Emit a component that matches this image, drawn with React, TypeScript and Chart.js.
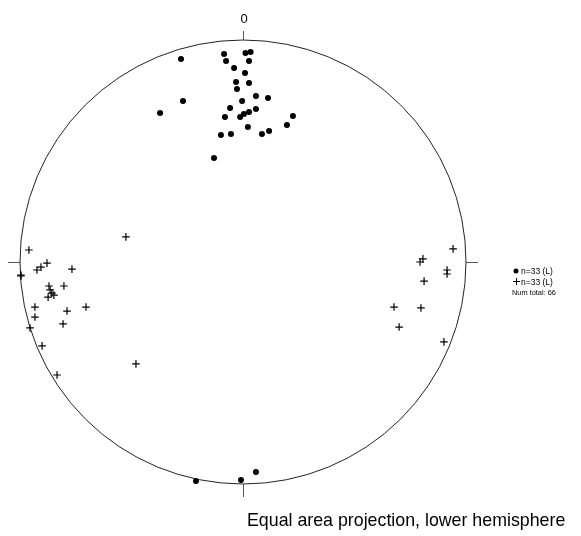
import React, { useEffect, useRef } from "react";
import { Chart, registerables } from "chart.js";

Chart.register(...registerables);

// Projected positions on the unit net (x = east, y = north)
const dotX = [
  -0.278, -0.372, -0.269, -0.085, -0.076, 0.011, 0.034, 0.027, -0.04, 0.009,
  -0.031, 0.027, -0.027, 0.058, 0.112, -0.004, -0.058, 0.058, 0.027, -0.013,
  0.004, -0.081, 0.224, 0.022, 0.197, -0.099, -0.054, 0.085, 0.117, -0.13,
  -0.211, -0.009, 0.058,
];
const dotY = [
  0.914, 0.671, 0.725, 0.937, 0.905, 0.941, 0.946, 0.905, 0.874, 0.851,
  0.811, 0.806, 0.779, 0.748, 0.739, 0.725, 0.694, 0.689, 0.676, 0.653,
  0.667, 0.653, 0.658, 0.608, 0.617, 0.572, 0.577, 0.577, 0.59, 0.468,
  -0.986, -0.982, -0.946,
];
const crossX = [
  -0.525, -0.96, -0.879, -0.906, -0.924, -0.767, -0.996, -0.996, -0.87, -0.803,
  -0.865, -0.857, -0.848, -0.874, -0.933, -0.704, -0.789, -0.933, -0.807, -0.955,
  -0.901, -0.48, -0.834, 0.942, 0.794, 0.807, 0.915, 0.915, 0.812, 0.677,
  0.798, 0.7, 0.901,
];
const crossY = [
  0.113, 0.054, -0.005, -0.023, -0.036, -0.032, -0.059, -0.063, -0.108, -0.108,
  -0.126, -0.14, -0.149, -0.158, -0.203, -0.203, -0.221, -0.248, -0.279, -0.297,
  -0.378, -0.459, -0.509, 0.059, 0.0, 0.014, -0.036, -0.054, -0.086, -0.203,
  -0.207, -0.293, -0.36,
];

const northLabel = "0";
const legendLabels = ["n=33 (L)", "n=33 (L)"];
const totalLabel = "Num total: 66";
const captionText = "Equal area projection, lower hemisphere";

const stereonetPlugin = {
  id: "stereonet",
  beforeDatasetsDraw(chart: any) {
    const ctx = chart.ctx;
    const xs = chart.scales.x;
    const ys = chart.scales.y;
    const cx = xs.getPixelForValue(0);
    const cy = ys.getPixelForValue(0);
    const rx = xs.getPixelForValue(1) - cx;
    const ry = cy - ys.getPixelForValue(1);
    ctx.save();
    ctx.strokeStyle = "#222";
    ctx.lineWidth = 1;
    ctx.beginPath();
    ctx.ellipse(cx, cy, rx, ry, 0, 0, Math.PI * 2);
    ctx.stroke();
    ctx.strokeStyle = "#555";
    ctx.beginPath();
    ctx.moveTo(cx + 0.5, cy - ry);
    ctx.lineTo(cx + 0.5, cy - ry - 9);
    ctx.moveTo(cx + 0.5, cy + ry);
    ctx.lineTo(cx + 0.5, cy + ry + 13);
    ctx.moveTo(cx - rx, cy + 0.5);
    ctx.lineTo(cx - rx - 12, cy + 0.5);
    ctx.moveTo(cx + rx, cy + 0.5);
    ctx.lineTo(cx + rx + 12, cy + 0.5);
    ctx.stroke();
    ctx.fillStyle = "#000";
    ctx.font = "13px 'Liberation Sans', Arial, sans-serif";
    ctx.textAlign = "center";
    ctx.textBaseline = "alphabetic";
    ctx.fillText(northLabel, cx + 1, cy - ry - 17);
    ctx.restore();
  },
  afterDraw(chart: any) {
    const ctx = chart.ctx;
    const area = chart.chartArea;
    ctx.save();
    ctx.fillStyle = "#000";
    ctx.strokeStyle = "#000";
    const lx = area.right + 50;
    const ly = (area.top + area.bottom) / 2 + 9;
    ctx.beginPath();
    ctx.arc(lx, ly, 2.5, 0, Math.PI * 2);
    ctx.fill();
    ctx.lineWidth = 1;
    ctx.beginPath();
    ctx.moveTo(lx - 3, ly + 10.5);
    ctx.lineTo(lx + 4, ly + 10.5);
    ctx.moveTo(lx + 0.5, ly + 7);
    ctx.lineTo(lx + 0.5, ly + 14);
    ctx.stroke();
    ctx.font = "8.5px 'Liberation Sans', Arial, sans-serif";
    ctx.textAlign = "left";
    ctx.textBaseline = "alphabetic";
    ctx.fillText(legendLabels[0], lx + 5, ly + 3);
    ctx.fillText(legendLabels[1], lx + 5, ly + 13.5);
    ctx.font = "7.4px 'Liberation Sans', Arial, sans-serif";
    ctx.fillText(totalLabel, lx - 4, ly + 23.5);
    ctx.font = "17.8px 'Liberation Sans', Arial, sans-serif";
    ctx.fillText(captionText, area.left + 227, area.bottom + 42);
    ctx.restore();
  },
};

export default function App() {
  const canvasRef = useRef<HTMLCanvasElement | null>(null);

  useEffect(() => {
    const canvas = canvasRef.current;
    if (!canvas) return;
    const chart = new Chart(canvas, {
      type: "scatter",
      data: {
        datasets: [
          {
            label: legendLabels[0],
            data: dotX.map((x, i) => ({ x, y: dotY[i] })),
            pointStyle: "circle",
            pointRadius: 3,
            pointBackgroundColor: "#000",
            pointBorderColor: "#000",
            pointBorderWidth: 0,
            clip: false,
          },
          {
            label: legendLabels[1],
            data: crossX.map((x, i) => ({ x, y: crossY[i] })),
            pointStyle: "cross",
            pointRadius: 3.8,
            pointBorderColor: "#000",
            pointBorderWidth: 1.2,
            clip: false,
          },
        ],
      },
      options: {
        responsive: false,
        animation: false,
        devicePixelRatio: 1,
        layout: { padding: { left: 20, right: 115, top: 40, bottom: 52 } },
        scales: {
          x: { type: "linear", min: -1, max: 1, display: false },
          y: { type: "linear", min: -1, max: 1, display: false },
        },
        plugins: {
          legend: { display: false },
          tooltip: { enabled: false },
        },
      },
      plugins: [stereonetPlugin],
    });
    return () => chart.destroy();
  }, []);

  return (
    <div style={{ position: "fixed", left: 0, top: 0, width: 581, height: 536, background: "#fff" }}>
      <canvas ref={canvasRef} width={581} height={536} style={{ display: "block" }} />
    </div>
  );
}
